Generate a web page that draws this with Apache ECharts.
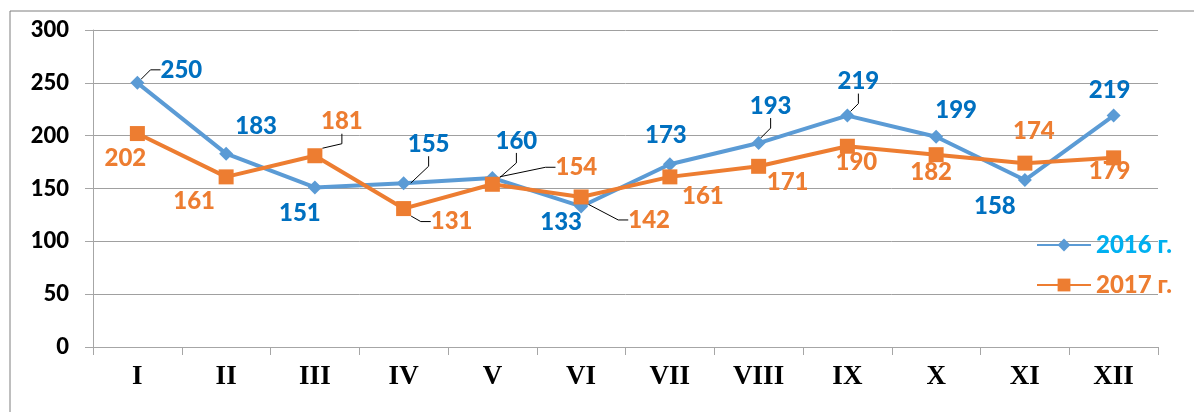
<!DOCTYPE html>
<html>
<head>
<meta charset="utf-8">
<script src="https://cdn.jsdelivr.net/npm/echarts@6/dist/echarts.min.js"></script>
<style>
  html, body { margin: 0; padding: 0; background: #fff; }
  #chart { width: 1194px; height: 412px; }
</style>
</head>
<body>
<div id="chart"></div>
<script>
// months (roman numerals) and values
var months = ['I', 'II', 'III', 'IV', 'V', 'VI', 'VII', 'VIII', 'IX', 'X', 'XI', 'XII'];
var values2016 = [250, 183, 151, 155, 160, 133, 173, 193, 219, 199, 158, 219];
var values2017 = [202, 161, 181, 131, 154, 142, 161, 171, 190, 182, 174, 179];
var yTicks = [0, 50, 100, 150, 200, 250, 300];

// where each data label sits relative to its point (px), and which ones get a leader line
var labelShift2016 = [[44, -13], [30, -27], [-15, 26], [25, -39], [24, -37], [-20, 16],
                      [-4, -29], [12, -37], [11, -34], [20, -26], [-30, 26], [-4, -25]];
var labelShift2017 = [[-12, 25], [-32, 24], [27, -34], [48, 13], [84, -17], [68, 23],
                      [33, 19], [29, 16], [9, 16], [-5, 18], [9, -32], [-4, 13]];
var leader2016 = [0, 3, 4, 7, 8];
var leader2017 = [2, 3, 4, 5];

var blue = '#5B9BD5', blueText = '#0070C0', orange = '#ED7D31';
var labelFont = { fontFamily: 'Lato', fontWeight: 900, fontSize: 24 };

function makeData(vals, leaders) {
  return vals.map(function (v, i) {
    return leaders.indexOf(i) >= 0 ? { value: v, labelLine: { show: true } } : v;
  });
}

var chart = echarts.init(document.getElementById('chart'));
chart.setOption({
  animation: false,
  textStyle: { fontFamily: 'Lato' },
  graphic: [
    { type: 'line', shape: { x1: 10, y1: 11, x2: 1194, y2: 11 }, style: { stroke: '#7F7F7F', lineWidth: 1 } },
    { type: 'line', shape: { x1: 10, y1: 11, x2: 10, y2: 412 }, style: { stroke: '#7F7F7F', lineWidth: 1 } }
  ],
  grid: { left: 93, right: 36, top: 30, bottom: 65 },
  legend: {
    orient: 'vertical',
    left: 1031,
    top: 228,
    itemWidth: 54,
    itemHeight: 16,
    itemGap: 16,
    textStyle: { fontFamily: 'Lato', fontWeight: 900, fontSize: 24 },
    data: [
      { name: '2016 г.', textStyle: { color: '#00B0F0' } },
      { name: '2017 г.', textStyle: { color: orange } }
    ]
  },
  xAxis: {
    type: 'category',
    data: months,
    boundaryGap: true,
    axisLine: { lineStyle: { color: '#A6A6A6', width: 1 } },
    axisTick: { show: true, length: 8, lineStyle: { color: '#A6A6A6' } },
    axisLabel: {
      margin: 17,
      color: '#000',
      fontFamily: 'Liberation Serif',
      fontWeight: 'bold',
      fontSize: 27
    }
  },
  yAxis: {
    type: 'value',
    min: yTicks[0],
    max: yTicks[yTicks.length - 1],
    interval: 50,
    axisLine: { show: true, lineStyle: { color: '#A6A6A6', width: 1 } },
    axisTick: { show: true, length: 8, inside: false, lineStyle: { color: '#A6A6A6' } },
    axisLabel: { margin: 24, color: '#000', fontFamily: 'Lato', fontWeight: 900, fontSize: 22 },
    splitLine: { lineStyle: { color: '#A0A0A0', width: 1 } }
  },
  series: [
    {
      name: '2016 г.',
      type: 'line',
      data: makeData(values2016, leader2016),
      symbol: 'diamond',
      symbolSize: 14,
      lineStyle: { color: blue, width: 4 },
      itemStyle: { color: blue },
      label: Object.assign({ show: true, position: 'inside', color: blueText }, labelFont),
      labelLine: { show: false, length2: 10, lineStyle: { color: '#000', width: 1 } },
      labelLayout: function (p) {
        var s = labelShift2016[p.dataIndex];
        return { dx: s[0], dy: s[1] };
      },
      z: 2
    },
    {
      name: '2017 г.',
      type: 'line',
      data: makeData(values2017, leader2017),
      symbol: 'rect',
      symbolSize: 15,
      lineStyle: { color: orange, width: 4 },
      itemStyle: { color: orange },
      label: Object.assign({ show: true, position: 'inside', color: orange }, labelFont),
      labelLine: { show: false, length2: 10, lineStyle: { color: '#000', width: 1 } },
      labelLayout: function (p) {
        var s = labelShift2017[p.dataIndex];
        return { dx: s[0], dy: s[1] };
      },
      z: 3
    }
  ]
});
</script>
</body>
</html>
